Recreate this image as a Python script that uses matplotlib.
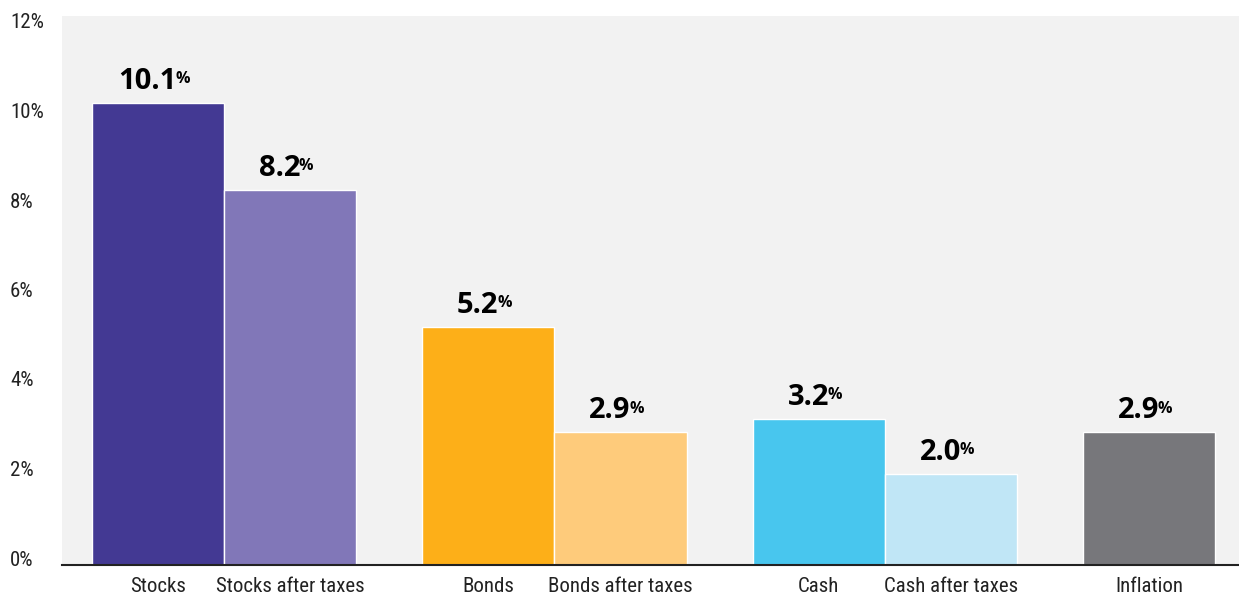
import matplotlib
matplotlib.use("Agg")
import matplotlib.pyplot as plt
import matplotlib.transforms as mtransforms
from matplotlib import font_manager

categories = ["Stocks", "Stocks after taxes", "Bonds", "Bonds after taxes",
              "Cash", "Cash after taxes", "Inflation"]
values = [10.1, 8.2, 5.2, 2.9, 3.2, 2.0, 2.9]
value_labels = ["10.1", "8.2", "5.2", "2.9", "3.2", "2.0", "2.9"]
groups = [0, 0, 1, 1, 2, 2, 3]
colors = ["#433993", "#8177B8", "#FDAF18", "#FECB7B", "#48C6EE", "#C0E6F6", "#77777B"]
yticks = [0, 2, 4, 6, 8, 10, 12]
ytick_labels = ["0%", "2%", "4%", "6%", "8%", "10%", "12%"]

names = {f.name for f in font_manager.fontManager.ttflist}
cond = None
for cand in ["Roboto Condensed", "Liberation Sans Narrow", "DejaVu Sans Condensed", "Open Sans Condensed"]:
    if cand in names:
        cond = cand
        break

fig = plt.figure(figsize=(12.39, 5.98), dpi=100)
ax = fig.add_axes([62 / 1239, 1 - 565 / 598, 1 - 62 / 1239, (565 - 16) / 598])
ax.set_facecolor("#F2F2F2")

# positions: bar width 1, group gap 0.5
xs = []
pos = 0.0
prev = None
for g in groups:
    if prev is not None:
        pos += 1.0 if g == prev else 1.5
    xs.append(pos)
    prev = g

ax.bar(xs, values, width=1.0, color=colors, edgecolor="white", linewidth=1.0, zorder=2)

for x, v, lab in zip(xs, values, value_labels):
    t = ax.annotate(lab, xy=(x - 0.08, v), xytext=(0, 5), textcoords="offset points",
                    ha="center", va="bottom", fontsize=21, fontweight="bold",
                    family=["Open Sans", "DejaVu Sans"], color="black", zorder=3)
    ax.annotate("%", xy=(1, 1), xycoords=t, xytext=(-1, -3), textcoords="offset points",
                ha="left", va="top", fontsize=11.5, fontweight="bold",
                family=["Open Sans", "DejaVu Sans"], color="black", zorder=3)

ax.set_xlim(-0.726, 8.18)
ax.set_ylim(0, 12)
ax.set_yticks(yticks)
fam = [cond, "DejaVu Sans"] if cond else ["DejaVu Sans"]
ax.set_yticklabels(ytick_labels, fontsize=15, family=fam, color="#222222")
ax.set_xticks(xs)
ax.set_xticklabels(categories, fontsize=15, family=fam, color="#222222")
ax.tick_params(axis="both", length=0)
ax.tick_params(axis="x", pad=9)
ax.tick_params(axis="y", pad=0)
for val, lbl in zip(yticks, ax.get_yticklabels()):
    lbl.set_horizontalalignment("left")
    lbl.set_x(-52 / 1177)
    # labels in the reference are slightly compressed toward the middle
    off = mtransforms.ScaledTranslation(0, (7 - val) / 100.0, fig.dpi_scale_trans)
    lbl.set_transform(lbl.get_transform() + off)
for s in ["top", "right", "left"]:
    ax.spines[s].set_visible(False)
ax.spines["bottom"].set_color("#222222")
ax.spines["bottom"].set_linewidth(1.5)
ax.spines["bottom"].set_zorder(4)

fig.savefig("out.png", dpi=100)
